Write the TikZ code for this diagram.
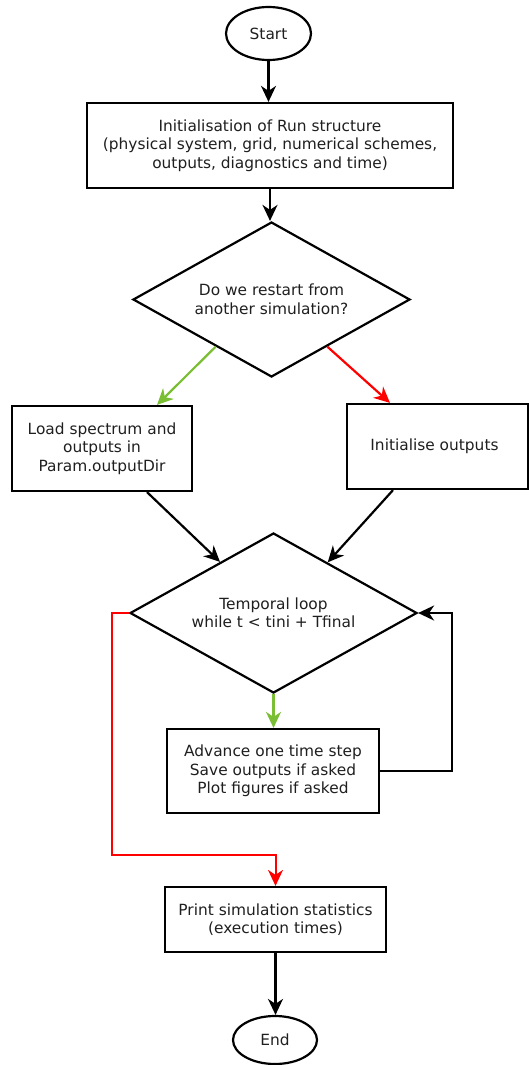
\documentclass[tikz,border=0pt]{standalone}
\usepackage{fontspec}
\setmainfont{DejaVu Sans}
\usetikzlibrary{shapes.geometric,arrows.meta,calc}
\definecolor{lgreen}{RGB}{122,190,52}
\definecolor{lred}{RGB}{255,0,0}
\begin{document}
\begin{tikzpicture}[x=1pt,y=-1pt,
  txt/.style={font=\fontsize{15.4}{18.5}\selectfont, text=black!88},
  box/.style={txt, draw, line width=2.2pt, rectangle, inner sep=0pt, align=center},
  term/.style={txt, draw, ellipse, line width=2.2pt, inner sep=0pt},
  dec/.style={txt, draw, diamond, aspect=1.79, line width=2.2pt, inner sep=0pt, align=center},
  arr/.style={line width=2.2pt, -{Stealth[length=16pt,width=15pt,inset=5pt]}},
]
\useasboundingbox (0,0) rectangle (529,1065);

\node[term, minimum width=85, minimum height=53] (start) at (268.5,33.5) {Start};
\node[box, minimum width=366, minimum height=85] (init) at (270,145.5)
  {Initialisation of Run structure\\(physical system, grid, numerical schemes,\\outputs, diagnostics and time)};
\node[dec, minimum width=277, minimum height=155] (d1) at (271.5,299.5)
  {Do we restart from\\another simulation?};
\node[box, minimum width=180, minimum height=85] (load) at (102,448.5)
  {Load spectrum and\\outputs in\\Param.outputDir};
\node[box, minimum width=181, minimum height=85] (initout) at (437.5,446.5)
  {\hspace*{-6pt}Initialise outputs};
\node[dec, minimum width=287, minimum height=160] (d2) at (273.5,613)
  {Temporal loop\\while t < tini + Tfinal};
\node[box, minimum width=212, minimum height=84] (adv) at (273,771)
  {Advance one time step\\Save outputs if asked\\Plot figures if asked};
\node[box, minimum width=221, minimum height=65] (print) at (275.5,919.5)
  {Print simulation statistics\\(execution times)};
\node[term, minimum width=84, minimum height=48] (end) at (275,1040) {End};

\draw[arr] (start.south) -- (start.south |- init.north);
\draw[arr] (init.south) -- (init.south |- d1.north);
\draw[arr, lgreen] ($(d1.west)!0.6!(d1.south)$) -- ([xshift=55]load.north);
\draw[arr, lred] ($(d1.east)!0.6!(d1.south)$) -- ([xshift=-47.5]initout.north);
\draw[arr] ([xshift=45]load.south) -- ($(d2.west)!0.63!(d2.north)$);
\draw[arr] ([xshift=-44.5]initout.south) -- ($(d2.east)!0.625!(d2.north)$);
\draw[arr, lgreen] (d2.south) -- (d2.south |- adv.north);
\draw[arr, line width=2pt] (adv.east) -- ++(72,0) |- (d2.east);
\draw[arr, lred, line width=2pt] (d2.west) -- ++(-17,0) -- ++(0,242) -| (print.north);
\draw[arr] (print.south) -- (print.south |- end.north);
\end{tikzpicture}
\end{document}
